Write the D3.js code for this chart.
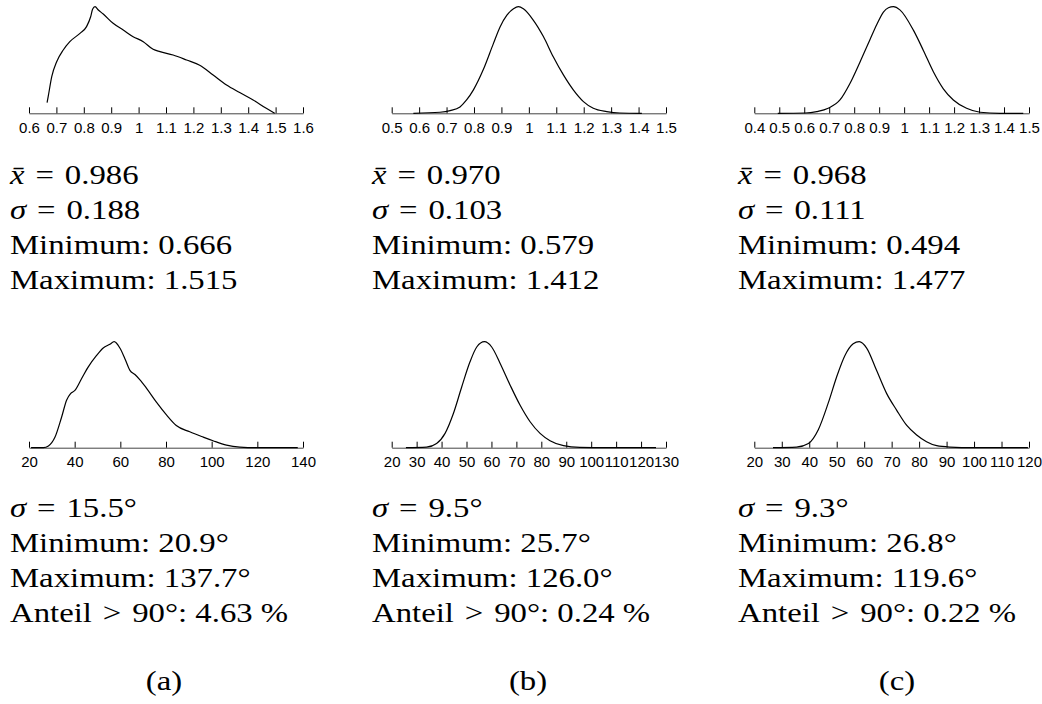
<!DOCTYPE html>
<html>
<head>
<meta charset="utf-8">
<script src="https://cdn.jsdelivr.net/npm/d3@7"></script>
<style>
  body { margin: 0; background: #fff; }
  .stats text { font-family: "Liberation Serif", "Times New Roman", serif; font-size: 28px; fill: #000; }
</style>
</head>
<body>
<div class="canvas"></div>
<script>
const width = 1042;
const height = 704;

// density curves: [value, relative density]
const ratioA = [[0.666,0.10],[0.670,0.156],[0.683,0.344],[0.701,0.484],[0.725,0.594],[0.749,0.672],[0.786,0.750],[0.810,0.813],[0.825,0.906],[0.832,0.975],[0.841,1.0],[0.853,0.969],[0.871,0.931],[0.907,0.844],[0.944,0.781],[0.980,0.719],[1.017,0.672],[1.053,0.600],[1.078,0.578],[1.126,0.547],[1.175,0.500],[1.223,0.450],[1.272,0.359],[1.321,0.266],[1.369,0.195],[1.418,0.125],[1.466,0.047],[1.497,0.0]];
const ratioB = [[0.579,0],[0.676,0.01],[0.713,0.025],[0.749,0.06],[0.773,0.125],[0.798,0.22],[0.834,0.41],[0.871,0.656],[0.895,0.81],[0.920,0.92],[0.944,0.98],[0.962,1.0],[0.980,0.98],[1.016,0.875],[1.053,0.72],[1.089,0.53],[1.126,0.36],[1.162,0.22],[1.199,0.11],[1.235,0.047],[1.284,0.016],[1.332,0.003],[1.412,0]];
const ratioC = [[0.494,0],[0.603,0.003],[0.650,0.016],[0.696,0.047],[0.743,0.125],[0.783,0.28],[0.823,0.48],[0.863,0.69],[0.890,0.83],[0.917,0.95],[0.937,0.99],[0.957,1.0],[0.983,0.97],[1.037,0.78],[1.077,0.59],[1.117,0.39],[1.157,0.23],[1.197,0.125],[1.250,0.047],[1.304,0.01],[1.384,0],[1.477,0]];

const angleA = [[20.9,0],[26.3,0],[28.5,0.016],[31.4,0.10],[34.3,0.29],[36.5,0.45],[38.2,0.51],[40.1,0.54],[43.0,0.65],[45.9,0.76],[49.6,0.87],[52.5,0.94],[55.4,0.975],[57.3,1.0],[59.8,0.94],[62.0,0.84],[64.2,0.73],[66.4,0.69],[68.6,0.64],[71.5,0.56],[75.8,0.43],[80.2,0.31],[84.5,0.21],[90.4,0.15],[96.3,0.10],[100.6,0.066],[106.5,0.025],[112.3,0.006],[119.6,0],[137.7,0]];
const angleB = [[25.7,0],[34.0,0.006],[38.0,0.04],[41.4,0.135],[44.7,0.32],[48.1,0.575],[51.4,0.81],[54.1,0.95],[57.2,1.0],[60.1,0.95],[63.4,0.80],[67.5,0.59],[71.5,0.40],[75.5,0.245],[79.5,0.135],[83.5,0.066],[88.9,0.019],[95.5,0.003],[106.2,0],[126.0,0]];
const angleC = [[26.8,0],[35.4,0.006],[39.7,0.04],[43.3,0.17],[46.9,0.42],[50.0,0.67],[53.0,0.87],[56.0,0.98],[58.2,1.0],[60.9,0.94],[64.5,0.73],[68.2,0.51],[71.8,0.355],[75.5,0.21],[79.1,0.12],[82.7,0.057],[86.4,0.019],[91.2,0.006],[99.7,0],[119.6,0]];

// tick values
const ratioTicksA = [0.6, 0.7, 0.8, 0.9, 1, 1.1, 1.2, 1.3, 1.4, 1.5, 1.6];
const ratioTicksB = [0.5, 0.6, 0.7, 0.8, 0.9, 1, 1.1, 1.2, 1.3, 1.4, 1.5];
const ratioTicksC = [0.4, 0.5, 0.6, 0.7, 0.8, 0.9, 1, 1.1, 1.2, 1.3, 1.4, 1.5];
const angleTicksA = [20, 40, 60, 80, 100, 120, 140];
const angleTicksB = [20, 30, 40, 50, 60, 70, 80, 90, 100, 110, 120, 130];
const angleTicksC = [20, 30, 40, 50, 60, 70, 80, 90, 100, 110, 120];

// statistics
const ratioMean = [0.986, 0.970, 0.968];
const ratioSd = [0.188, 0.103, 0.111];
const ratioMin = [0.666, 0.579, 0.494];
const ratioMax = [1.515, 1.412, 1.477];
const angleSd = [15.5, 9.5, 9.3];
const angleMin = [20.9, 25.7, 26.8];
const angleMax = [137.7, 126.0, 119.6];
const angleOver90 = [4.63, 0.24, 0.22];
const captions = ["(a)", "(b)", "(c)"];

const svg = d3.select(".canvas")
  .append("svg")
  .attr("width", width)
  .attr("height", height);

// column layout
const cols = [
  { x0: 29, x1: 303, textX: 10, capX: 164 },
  { x0: 391.7, x1: 666, textX: 372, capX: 528 },
  { x0: 754.3, x1: 1029, textX: 738, capX: 897 }
];

const rows = [
  { axisY: 113.3, topY: 6.7, curves: [ratioA, ratioB, ratioC],
    ticks: [ratioTicksA, ratioTicksB, ratioTicksC] },
  { axisY: 447.7, topY: 341.7, curves: [angleA, angleB, angleC],
    ticks: [angleTicksA, angleTicksB, angleTicksC] }
];

const fmtTick = d => d3.format("~g")(d);

rows.forEach(row => {
  cols.forEach((col, i) => {
    const ticks = row.ticks[i];
    const xScale = d3.scaleLinear()
      .domain([ticks[0], ticks[ticks.length - 1]])
      .range([col.x0, col.x1]);
    const yScale = d3.scaleLinear()
      .domain([0, 1])
      .range([row.axisY, row.topY]);

    const xAxis = d3.axisBottom(xScale)
      .tickValues(ticks)
      .tickFormat(fmtTick)
      .tickSizeInner(-6)
      .tickSizeOuter(0)
      .tickPadding(9);

    const g = svg.append("g")
      .attr("transform", `translate(0, ${row.axisY})`)
      .call(xAxis)
      .attr("font-family", "'Liberation Sans', Arial, sans-serif")
      .attr("font-size", 15);
    g.select(".domain").attr("stroke", "#444");
    g.selectAll(".tick line").attr("stroke", "#000");
    g.selectAll(".tick text").attr("fill", "#000");

    const line = d3.line()
      .x(d => xScale(d[0]))
      .y(d => yScale(d[1]))
      .curve(d3.curveMonotoneX);

    svg.append("path")
      .datum(row.curves[i])
      .attr("d", line)
      .attr("fill", "none")
      .attr("stroke", "#000")
      .attr("stroke-width", 1.2);
  });
});

// text blocks
const stats = svg.append("g").attr("class", "stats");
const sx = 1.17;
const eq = "\u2004=\u2004"; // wider math spacing around "="

function writeLine(x, y, parts) {
  const t = stats.append("text")
    .attr("transform", `translate(${x}, ${y}) scale(${sx}, 1)`);
  parts.forEach(p => {
    t.append("tspan")
      .attr("font-style", p.it ? "italic" : null)
      .text(p.t);
  });
  return t;
}

cols.forEach((col, i) => {
  const topLines = [
    [{ t: "x\u0304", it: true }, { t: eq + ratioMean[i].toFixed(3) }],
    [{ t: "σ", it: true }, { t: eq + ratioSd[i].toFixed(3) }],
    [{ t: "Minimum: " + ratioMin[i].toFixed(3) }],
    [{ t: "Maximum: " + ratioMax[i].toFixed(3) }]
  ];
  topLines.forEach((parts, k) => writeLine(col.textX, 183.5 + k * 35, parts));

  const bottomLines = [
    [{ t: "σ", it: true }, { t: eq + angleSd[i].toFixed(1) + "°" }],
    [{ t: "Minimum: " + angleMin[i].toFixed(1) + "°" }],
    [{ t: "Maximum: " + angleMax[i].toFixed(1) + "°" }],
    [{ t: "Anteil\u2004>\u200490°: " + angleOver90[i].toFixed(2) + " %" }]
  ];
  bottomLines.forEach((parts, k) => writeLine(col.textX, 517 + k * 35, parts));

  writeLine(col.capX, 690, [{ t: captions[i] }])
    .attr("text-anchor", "middle");
});
</script>
</body>
</html>
